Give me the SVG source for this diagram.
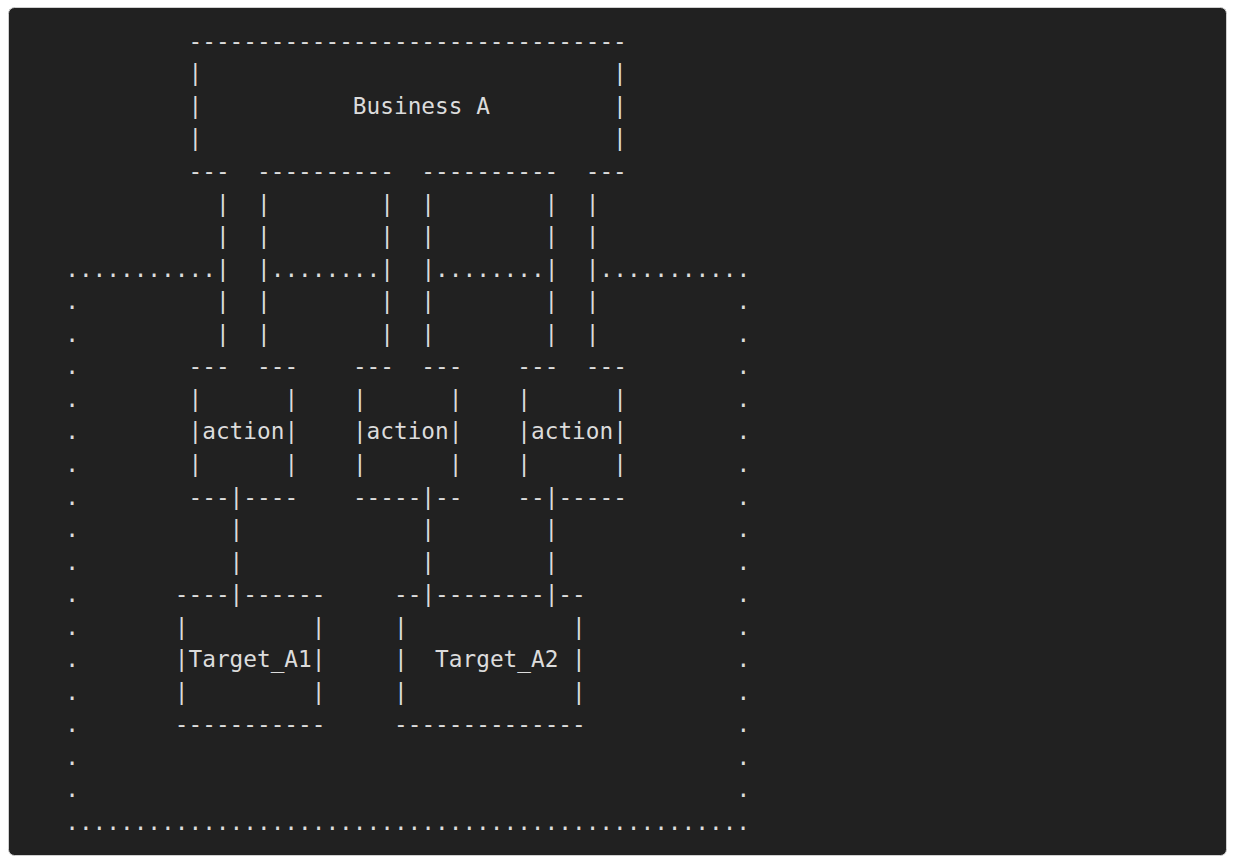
<svg xmlns="http://www.w3.org/2000/svg" width="1233" height="860" viewBox="0 0 1233 860">
<style>
text{font-family:"DejaVu Sans Mono","Liberation Mono",monospace;font-size:22.75px;fill:#dcdcdc;white-space:pre}
</style>
<rect x="0" y="0" width="1233" height="860" fill="#ffffff"/>
<rect x="8.5" y="7.5" width="1218" height="848" rx="6" fill="#212121" stroke="#cfcfcf" stroke-width="1"/>
<g id="boundary" xml:space="preserve">
<text x="65.2" y="276.65">...........</text>
<text x="270.7" y="276.65">........</text>
<text x="435.1" y="276.65">........</text>
<text x="599.5" y="276.65">...........</text>
<text x="65.2" y="309.2">.</text><text x="736.5" y="309.2">.</text>
<text x="65.2" y="341.75">.</text><text x="736.5" y="341.75">.</text>
<text x="65.2" y="374.3">.</text><text x="736.5" y="374.3">.</text>
<text x="65.2" y="406.85">.</text><text x="736.5" y="406.85">.</text>
<text x="65.2" y="439.4">.</text><text x="736.5" y="439.4">.</text>
<text x="65.2" y="471.95">.</text><text x="736.5" y="471.95">.</text>
<text x="65.2" y="504.5">.</text><text x="736.5" y="504.5">.</text>
<text x="65.2" y="537.05">.</text><text x="736.5" y="537.05">.</text>
<text x="65.2" y="569.6">.</text><text x="736.5" y="569.6">.</text>
<text x="65.2" y="602.15">.</text><text x="736.5" y="602.15">.</text>
<text x="65.2" y="634.7">.</text><text x="736.5" y="634.7">.</text>
<text x="65.2" y="667.25">.</text><text x="736.5" y="667.25">.</text>
<text x="65.2" y="699.8">.</text><text x="736.5" y="699.8">.</text>
<text x="65.2" y="732.35">.</text><text x="736.5" y="732.35">.</text>
<text x="65.2" y="764.9">.</text><text x="736.5" y="764.9">.</text>
<text x="65.2" y="797.45">.</text><text x="736.5" y="797.45">.</text>
<text x="65.2" y="830">..................................................</text>
</g>
<g id="business-a" xml:space="preserve">
<text x="188.5" y="48.8">--------------------------------</text>
<text x="188.5" y="81.35">|                              |</text>
<text x="188.5" y="113.9">|           Business A         |</text>
<text x="188.5" y="146.45">|                              |</text>
<text x="188.5" y="179">---  ----------  ----------  ---</text>
</g>
<g id="connectors" xml:space="preserve">
<text x="215.9" y="211.55">|  |        |  |        |  |</text>
<text x="215.9" y="244.1">|  |        |  |        |  |</text>
<text x="215.9" y="276.65">|  |</text>
<text x="380.3" y="276.65">|  |</text>
<text x="544.7" y="276.65">|  |</text>
<text x="215.9" y="309.2">|  |        |  |        |  |</text>
<text x="215.9" y="341.75">|  |        |  |        |  |</text>
<text x="229.6" y="537.05">|             |        |</text>
<text x="229.6" y="569.6">|             |        |</text>
</g>
<g id="action-1" xml:space="preserve">
<text x="188.5" y="374.3">---  ---</text>
<text x="188.5" y="406.85">|      |</text>
<text x="188.5" y="439.4">|action|</text>
<text x="188.5" y="471.95">|      |</text>
<text x="188.5" y="504.5">---|----</text>
</g>
<g id="action-2" xml:space="preserve">
<text x="352.9" y="374.3">---  ---</text>
<text x="352.9" y="406.85">|      |</text>
<text x="352.9" y="439.4">|action|</text>
<text x="352.9" y="471.95">|      |</text>
<text x="352.9" y="504.5">-----|--</text>
</g>
<g id="action-3" xml:space="preserve">
<text x="517.3" y="374.3">---  ---</text>
<text x="517.3" y="406.85">|      |</text>
<text x="517.3" y="439.4">|action|</text>
<text x="517.3" y="471.95">|      |</text>
<text x="517.3" y="504.5">--|-----</text>
</g>
<g id="target-a1" xml:space="preserve">
<text x="174.8" y="602.15">----|------</text>
<text x="174.8" y="634.7">|         |</text>
<text x="174.8" y="667.25">|Target_A1|</text>
<text x="174.8" y="699.8">|         |</text>
<text x="174.8" y="732.35">-----------</text>
</g>
<g id="target-a2" xml:space="preserve">
<text x="394" y="602.15">--|--------|--</text>
<text x="394" y="634.7">|            |</text>
<text x="394" y="667.25">|  Target_A2 |</text>
<text x="394" y="699.8">|            |</text>
<text x="394" y="732.35">--------------</text>
</g>
</svg>
